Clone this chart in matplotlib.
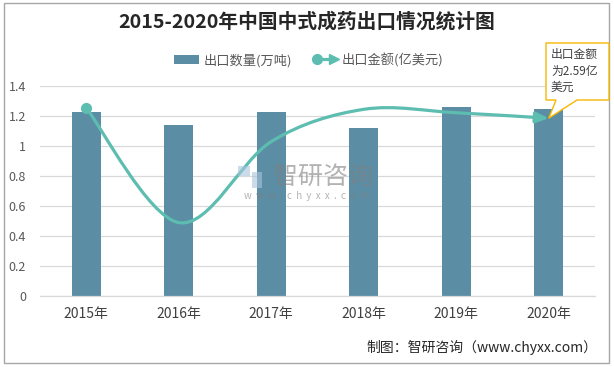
import numpy as np
import matplotlib
matplotlib.use("Agg")
import matplotlib.pyplot as plt
from matplotlib.path import Path
from matplotlib.patches import FancyArrowPatch, Rectangle, Polygon, Patch
from matplotlib.lines import Line2D
from matplotlib.legend_handler import HandlerBase

plt.rcParams['font.family'] = ['Noto Sans CJK SC', 'DejaVu Sans']

# ---- data ----
years = ["2015年", "2016年", "2017年", "2018年", "2019年", "2020年"]
volume = [1.23, 1.14, 1.23, 1.12, 1.26, 1.25]          # 出口数量(万吨)
value = [2.74, 1.07, 2.25, 2.72, 2.67, 2.59]          # 出口金额(亿美元)
yticks = [0, 0.2, 0.4, 0.6, 0.8, 1, 1.2, 1.4]
ytick_labels = ["0", "0.2", "0.4", "0.6", "0.8", "1", "1.2", "1.4"]

BAR_C = "#5b8da5"
LINE_C = "#5dbdb1"
W, H = 614, 367

fig = plt.figure(figsize=(W / 100, H / 100), dpi=100)
fig.patch.set_facecolor("white")


def fx(x):
    return x / W


def fy(y):
    return 1 - y / H


ax = fig.add_axes([fx(40), fy(296), fx(595) - fx(40), fy(86) - fy(296)])
x = np.arange(len(years))
ax.bar(x, volume, width=0.31, color=BAR_C, zorder=2)
ax.set_xlim(-0.5, len(years) - 0.5)
ax.set_ylim(0, 1.4)
ax.set_yticks(yticks)
ax.set_yticklabels(ytick_labels, fontsize=9, color="#595959")
ax.set_xticks(x)
ax.set_xticklabels(years, fontsize=10, color="#404040")
ax.tick_params(axis="both", length=0)
ax.tick_params(axis="x", pad=8)
ax.tick_params(axis="y", pad=10)
ax.grid(axis="y", color="#d9d9d9", linewidth=0.9, zorder=0)
for s in ["top", "right", "left"]:
    ax.spines[s].set_visible(False)
ax.spines["bottom"].set_color("#d9d9d9")
ax.spines["bottom"].set_linewidth(0.9)
ax.set_axisbelow(True)

# secondary (hidden) axis for export value
ax2 = ax.twinx()
ax2.set_ylim(0, 3.06)
ax2.axis("off")

# Excel-like smoothed curve (Catmull-Rom as cubic Bezier)
P = np.column_stack([x.astype(float), np.array(value, dtype=float)])
n = len(P)
verts = [P[0]]
codes = [Path.MOVETO]
for i in range(n - 1):
    p0 = P[max(i - 1, 0)]
    p1 = P[i]
    p2 = P[i + 1]
    p3 = P[min(i + 2, n - 1)]
    c1 = p1 + (p2 - p0) / 6.0
    c2 = p2 - (p3 - p1) / 6.0
    verts += [c1, c2, p2]
    codes += [Path.CURVE4] * 3
curve = Path(np.array(verts), codes)
arrow = FancyArrowPatch(path=curve, arrowstyle="-|>,head_length=0.75,head_width=0.32",
                        mutation_scale=10, color=LINE_C, lw=2.3,
                        transform=ax2.transData, zorder=4)
ax2.add_patch(arrow)
ax2.plot([x[0]], [value[0]], "o", ms=7, color=LINE_C, zorder=5)

# title
fig.text(0.5, fy(22), "2015-2020年中国中式成药出口情况统计图", ha="center", va="center",
         fontsize=14.2, fontweight="bold", color="#262626")


# legend
class HandlerArrowLine(HandlerBase):
    def create_artists(self, legend, orig_handle, xdescent, ydescent, width, height, fontsize, trans):
        y = height / 2 - ydescent
        x0 = -xdescent
        x1 = width - xdescent
        line = Line2D([x0 + 3, x1 - 4], [y, y], color=LINE_C, lw=2.3, transform=trans)
        dot = Line2D([x0 + 3], [y], marker="o", ms=7, color=LINE_C, lw=0, transform=trans)
        head = Line2D([x1 - 3], [y], marker=">", ms=6.5, color=LINE_C, lw=0, transform=trans)
        return [line, dot, head]


bar_handle = Patch(facecolor=BAR_C, edgecolor="none")
line_handle = Line2D([], [], color=LINE_C)
leg = fig.legend([bar_handle, line_handle], ["出口数量(万吨)", "出口金额(亿美元)"],
                 handler_map={Line2D: HandlerArrowLine()},
                 loc="center", bbox_to_anchor=(fx(309), fy(60)), ncol=2, frameon=False,
                 fontsize=9.5, handlelength=1.9, handleheight=0.6, handletextpad=0.3,
                 columnspacing=1.6)
for t in leg.get_texts():
    t.set_color("#595959")

# watermark
fig.text(fx(323), fy(177), "智研咨询", ha="center", va="center", fontsize=18,
         color="#808080", alpha=0.6)
fig.text(fx(307), fy(196), "w  w  w  .  c  h  y  x  x  .  c  o  m", ha="center", va="center",
         fontsize=7, color="#808080", alpha=0.6)
fig.patches.append(Rectangle((fx(238), fy(176)), fx(12), fy(166) - fy(176),
                             transform=fig.transFigure, facecolor="#a9c3dc", alpha=0.6, edgecolor="none"))
fig.patches.append(Rectangle((fx(252), fy(188)), fx(10), fy(172) - fy(188),
                             transform=fig.transFigure, facecolor="#a9c3dc", alpha=0.6, edgecolor="none"))

# callout
tip_disp = ax2.transData.transform((x[-1], value[-1]))
tip_fig = fig.transFigure.inverted().transform(tip_disp)
poly = [(fx(546), fy(43)), (fx(609), fy(43)), (fx(609), fy(100)), (fx(577), fy(100)),
        (tip_fig[0], tip_fig[1]), (fx(556), fy(100)), (fx(546), fy(100))]
fig.patches.append(Polygon(poly, closed=True, transform=fig.transFigure,
                           facecolor="white", edgecolor="#f5b800", linewidth=1.0, zorder=6))
fig.text(fx(551), fy(71), "出口金额\n为2.59亿\n美元", ha="left", va="center", fontsize=8.5,
         color="#404040", linespacing=1.35, zorder=7)

# source
fig.text(fx(597), fy(347), "制图：智研咨询（www.chyxx.com）", ha="right", va="center",
         fontsize=10, color="#262626")

# frame
fig.patches.append(Rectangle((fx(4), fy(363)), fx(609) - fx(4), fy(3) - fy(363),
                             transform=fig.transFigure, facecolor="none", edgecolor="#a6a6a6",
                             linewidth=1.0, zorder=0))

fig.savefig("out.png", dpi=100, facecolor="white")
